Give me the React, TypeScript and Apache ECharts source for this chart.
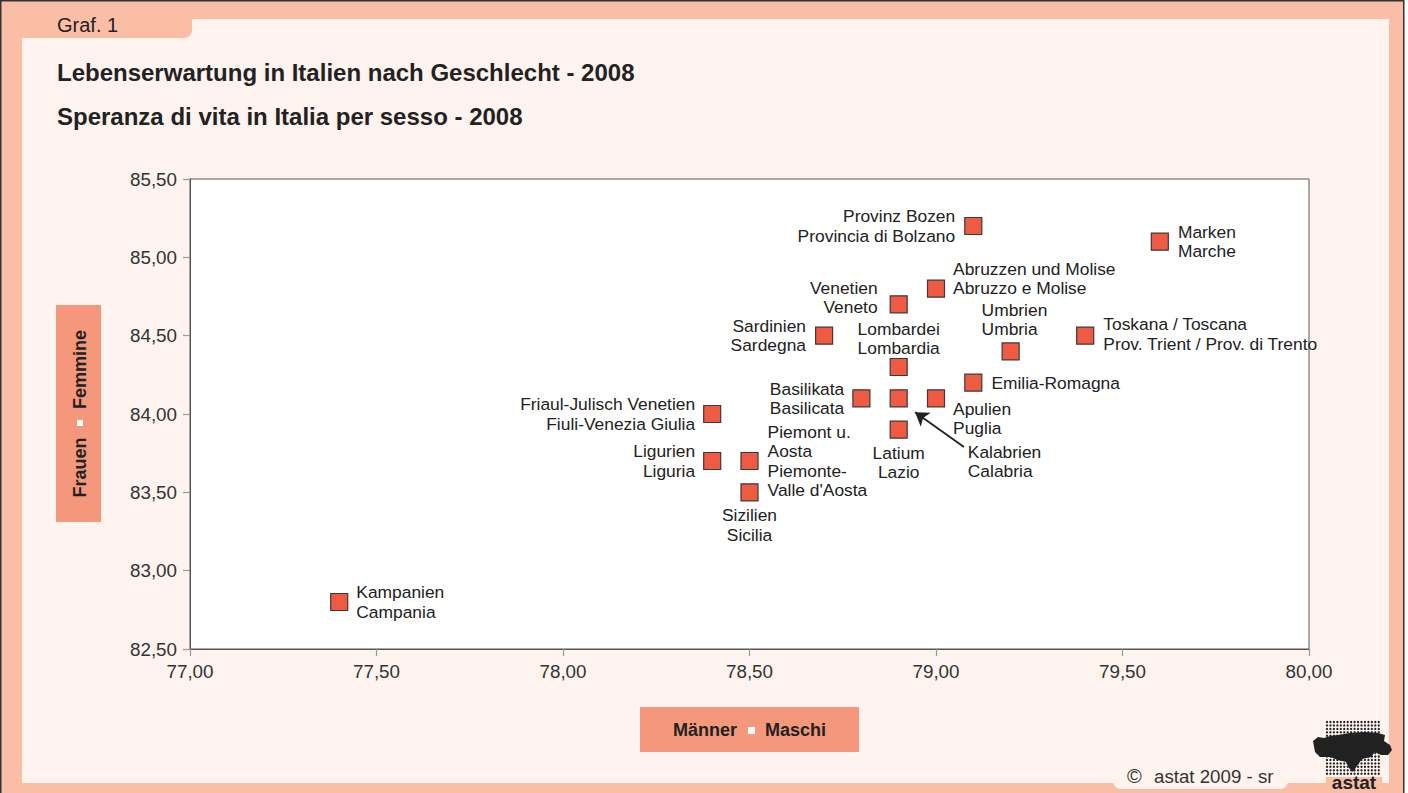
import React, { useEffect, useRef } from "react";
import * as echarts from "echarts";

// ---- data ----
const namesDe = [
  "Kampanien",
  "Friaul-Julisch Venetien",
  "Ligurien",
  "Piemont u.\nAosta",
  "Sizilien",
  "Sardinien",
  "Basilikata",
  "Kalabrien",
  "Latium",
  "Lombardei",
  "Venetien",
  "Abruzzen und Molise",
  "Apulien",
  "Provinz Bozen",
  "Emilia-Romagna",
  "Umbrien",
  "Toskana / Toscana",
  "Marken",
];
const namesIt = [
  "Campania",
  "Fiuli-Venezia Giulia",
  "Liguria",
  "Piemonte-\nValle d'Aosta",
  "Sicilia",
  "Sardegna",
  "Basilicata",
  "Calabria",
  "Lazio",
  "Lombardia",
  "Veneto",
  "Abruzzo e Molise",
  "Puglia",
  "Provincia di Bolzano",
  "Emilia-Romagna",
  "Umbria",
  "Prov. Trient / Prov. di Trento",
  "Marche",
];
// life expectancy, men (x) and women (y)
const maleLE = [77.4, 78.4, 78.4, 78.5, 78.5, 78.7, 78.8, 78.9, 78.9, 78.9, 78.9, 79.0, 79.0, 79.1, 79.1, 79.2, 79.4, 79.6];
const femaleLE = [82.8, 84.0, 83.7, 83.7, 83.5, 84.5, 84.1, 84.1, 83.9, 84.3, 84.7, 84.8, 84.1, 85.2, 84.2, 84.4, 84.5, 85.1];

// arrow pointing at Kalabrien (data coordinates: tail -> head)
const arrowTail = [79.075, 83.79];
const arrowHead = [78.944, 84.011];

const xTicks = { min: 77, max: 80, interval: 0.5 };
const yTicks = { min: 82.5, max: 85.5, interval: 0.5 };

// label placement (style, not data)
const labelPlacement: any[] = [
  { position: "right", distance: 8 },
  { position: "left", distance: 8 },
  { position: "left", distance: 8 },
  { position: "right", distance: 9 },
  { position: "bottom", distance: 4 },
  { position: "left", distance: 9 },
  { position: "left", distance: 8 },
  { position: "right", distance: 0, offset: [60, 63] },
  { position: "bottom", distance: 4 },
  { position: "top", distance: 0 },
  { position: "left", distance: 12, offset: [0, -7] },
  { position: "right", distance: 8, offset: [0, -10] },
  { position: "right", distance: 8, offset: [0, 20] },
  { position: "left", distance: 9 },
  { position: "right", distance: 9 },
  { position: "top", distance: 3, align: "left", offset: [-29, 0] },
  { position: "right", distance: 9, offset: [0, -1.5] },
  { position: "right", distance: 9 },
];

const FONT = "'Liberation Sans', Arial, Helvetica, sans-serif";
const SALMON = "#F9BEA5";
const CREAM = "#FEF3EE";
const BOX = "#F4977A";
const MARKER = "#EF5A42";

// blob of the logo
echarts.graphic.registerShape(
  "astatBlob",
  echarts.graphic.extendPath(
    "M1313,741 L1318,737 L1324,738 L1330,736 L1338,735 L1350,733 L1365,732 L1378,733 L1385,735 L1384,741 L1390,745 L1392,750 L1388,755 L1381,755 L1375,752 L1371,757 L1362,759 L1357,766 L1353,772 L1349,768 L1346,762 L1338,760 L1330,757 L1320,757 L1315,752 Z",
    {}
  ) as any
);

function fmt(v: number) {
  return v.toFixed(2).replace(".", ",");
}

export default function App() {
  const ref = useRef<HTMLDivElement>(null);

  useEffect(() => {
    document.body.style.margin = "0";
    if (!ref.current) return;
    const chart = echarts.init(ref.current, undefined, { renderer: "svg" });

    const data = maleLE.map((x, i) => {
      const p = labelPlacement[i];
      const text = namesDe[i] === namesIt[i] ? namesDe[i] : namesDe[i] + "\n" + namesIt[i];
      return {
        value: [x, femaleLE[i]],
        label: {
          show: true,
          formatter: text,
          position: p.position,
          distance: p.distance,
          offset: p.offset || [0, 0],
          ...(p.align ? { align: p.align } : {}),
        },
      };
    });

    const dots: any[] = [];
    for (let r = 0; r < 16; r++) {
      for (let c = 0; c < 16; c++) {
        dots.push({
          type: "circle",
          z: 5,
          shape: { cx: 1327 + c * 3.45, cy: 722 + r * 3.45, r: 1.15 },
          style: { fill: "#222" },
          silent: true,
        });
      }
    }

    const graphic: any[] = [
      { type: "rect", z: -10, shape: { x: 0.75, y: 0.75, width: 1403, height: 800 }, style: { fill: SALMON, stroke: "#333", lineWidth: 1.5 } },
      { type: "rect", z: -9, shape: { x: 22, y: 19, width: 1367, height: 764 }, style: { fill: CREAM } },
      { type: "rect", z: -8, shape: { x: 22, y: 19, width: 170, height: 19, r: [0, 0, 8, 0] }, style: { fill: SALMON } },
      { type: "rect", z: -8, shape: { x: 1113, y: 770, width: 175, height: 19, r: [0, 0, 8, 8] }, style: { fill: CREAM } },
      { type: "text", z: 5, style: { x: 57, y: 25, text: "Graf. 1", font: `20px ${FONT}`, fill: "#222", verticalAlign: "middle" } },
      { type: "text", z: 5, style: { x: 57, y: 72, text: "Lebenserwartung in Italien nach Geschlecht - 2008", font: `bold 24px ${FONT}`, fill: "#222", verticalAlign: "middle" } },
      { type: "text", z: 5, style: { x: 57, y: 116, text: "Speranza di vita in Italia per sesso - 2008", font: `bold 24px ${FONT}`, fill: "#222", verticalAlign: "middle" } },
      // y-axis title box
      { type: "rect", z: 1, shape: { x: 56, y: 305, width: 45, height: 217 }, style: { fill: BOX } },
      { type: "text", z: 5, x: 79.5, y: 369.5, rotation: Math.PI / 2, style: { x: 0, y: 0, text: "Femmine", font: `bold 18px ${FONT}`, fill: "#222", align: "center", verticalAlign: "middle" } },
      { type: "text", z: 5, x: 79.5, y: 467.5, rotation: Math.PI / 2, style: { x: 0, y: 0, text: "Frauen", font: `bold 18px ${FONT}`, fill: "#222", align: "center", verticalAlign: "middle" } },
      { type: "rect", z: 5, shape: { x: 77, y: 420, width: 6, height: 6 }, style: { fill: "#fff" } },
      // x-axis title box
      { type: "rect", z: 1, shape: { x: 640, y: 707, width: 219, height: 45 }, style: { fill: BOX } },
      { type: "text", z: 5, style: { x: 705, y: 729.5, text: "Männer", font: `bold 18px ${FONT}`, fill: "#222", align: "center", verticalAlign: "middle" } },
      { type: "text", z: 5, style: { x: 795.5, y: 729.5, text: "Maschi", font: `bold 18px ${FONT}`, fill: "#222", align: "center", verticalAlign: "middle" } },
      { type: "rect", z: 5, shape: { x: 748, y: 727, width: 7, height: 7 }, style: { fill: "#fff" } },
      // copyright
      { type: "text", z: 5, style: { x: 1127, y: 776, text: "©", font: `20px ${FONT}`, fill: "#333", verticalAlign: "middle" } },
      { type: "text", z: 5, style: { x: 1154, y: 776, text: "astat 2009 - sr", font: `18.7px ${FONT}`, fill: "#333", verticalAlign: "middle" } },
      // logo
      { type: "astatBlob", z: 4, style: { fill: "#222" } },
      ...dots,
      { type: "rect", z: 4, shape: { x: 1326, y: 777, width: 56, height: 16 }, style: { fill: SALMON } },
      { type: "text", z: 5, style: { x: 1354, y: 792, text: "astat", font: `900 19px ${FONT}`, fill: "#222", align: "center", verticalAlign: "bottom" } },
    ];

    const axisCommon = {
      type: "value" as const,
      axisLine: { show: true, lineStyle: { color: "#555", width: 1 } },
      axisTick: { show: true, length: 7, lineStyle: { color: "#999", width: 1.2 } },
      splitLine: { show: false },
      axisLabel: { fontSize: 18.8, color: "#333", fontFamily: FONT, formatter: (v: number) => fmt(v) },
    };

    chart.setOption({
      animation: false,
      backgroundColor: "transparent",
      textStyle: { fontFamily: FONT },
      grid: {
        left: 190,
        top: 179,
        width: 1119,
        height: 470,
        show: true,
        backgroundColor: "#fff",
        borderColor: "#555",
        borderWidth: 1,
        z: 0,
      },
      xAxis: { ...axisCommon, ...xTicks, axisLabel: { ...axisCommon.axisLabel, margin: 13 } },
      yAxis: { ...axisCommon, ...yTicks, axisLabel: { ...axisCommon.axisLabel, margin: 13 } },
      graphic,
      series: [
        {
          type: "scatter",
          symbol: "rect",
          symbolSize: 17,
          itemStyle: { color: MARKER, borderColor: "#3a3a3a", borderWidth: 1.2, opacity: 1 },
          label: { fontSize: 17.4, lineHeight: 19.5, color: "#222", fontFamily: FONT },
          emphasis: { disabled: true },
          data,
          markLine: {
            silent: true,
            symbol: ["none", "arrow"],
            symbolSize: 13,
            label: { show: false },
            lineStyle: { color: "#222", width: 1.8, type: "solid" },
            data: [[{ coord: arrowTail }, { coord: arrowHead }]],
          },
        },
      ],
    });

    return () => chart.dispose();
  }, []);

  return <div ref={ref} style={{ width: 1408, height: 793 }} />;
}
